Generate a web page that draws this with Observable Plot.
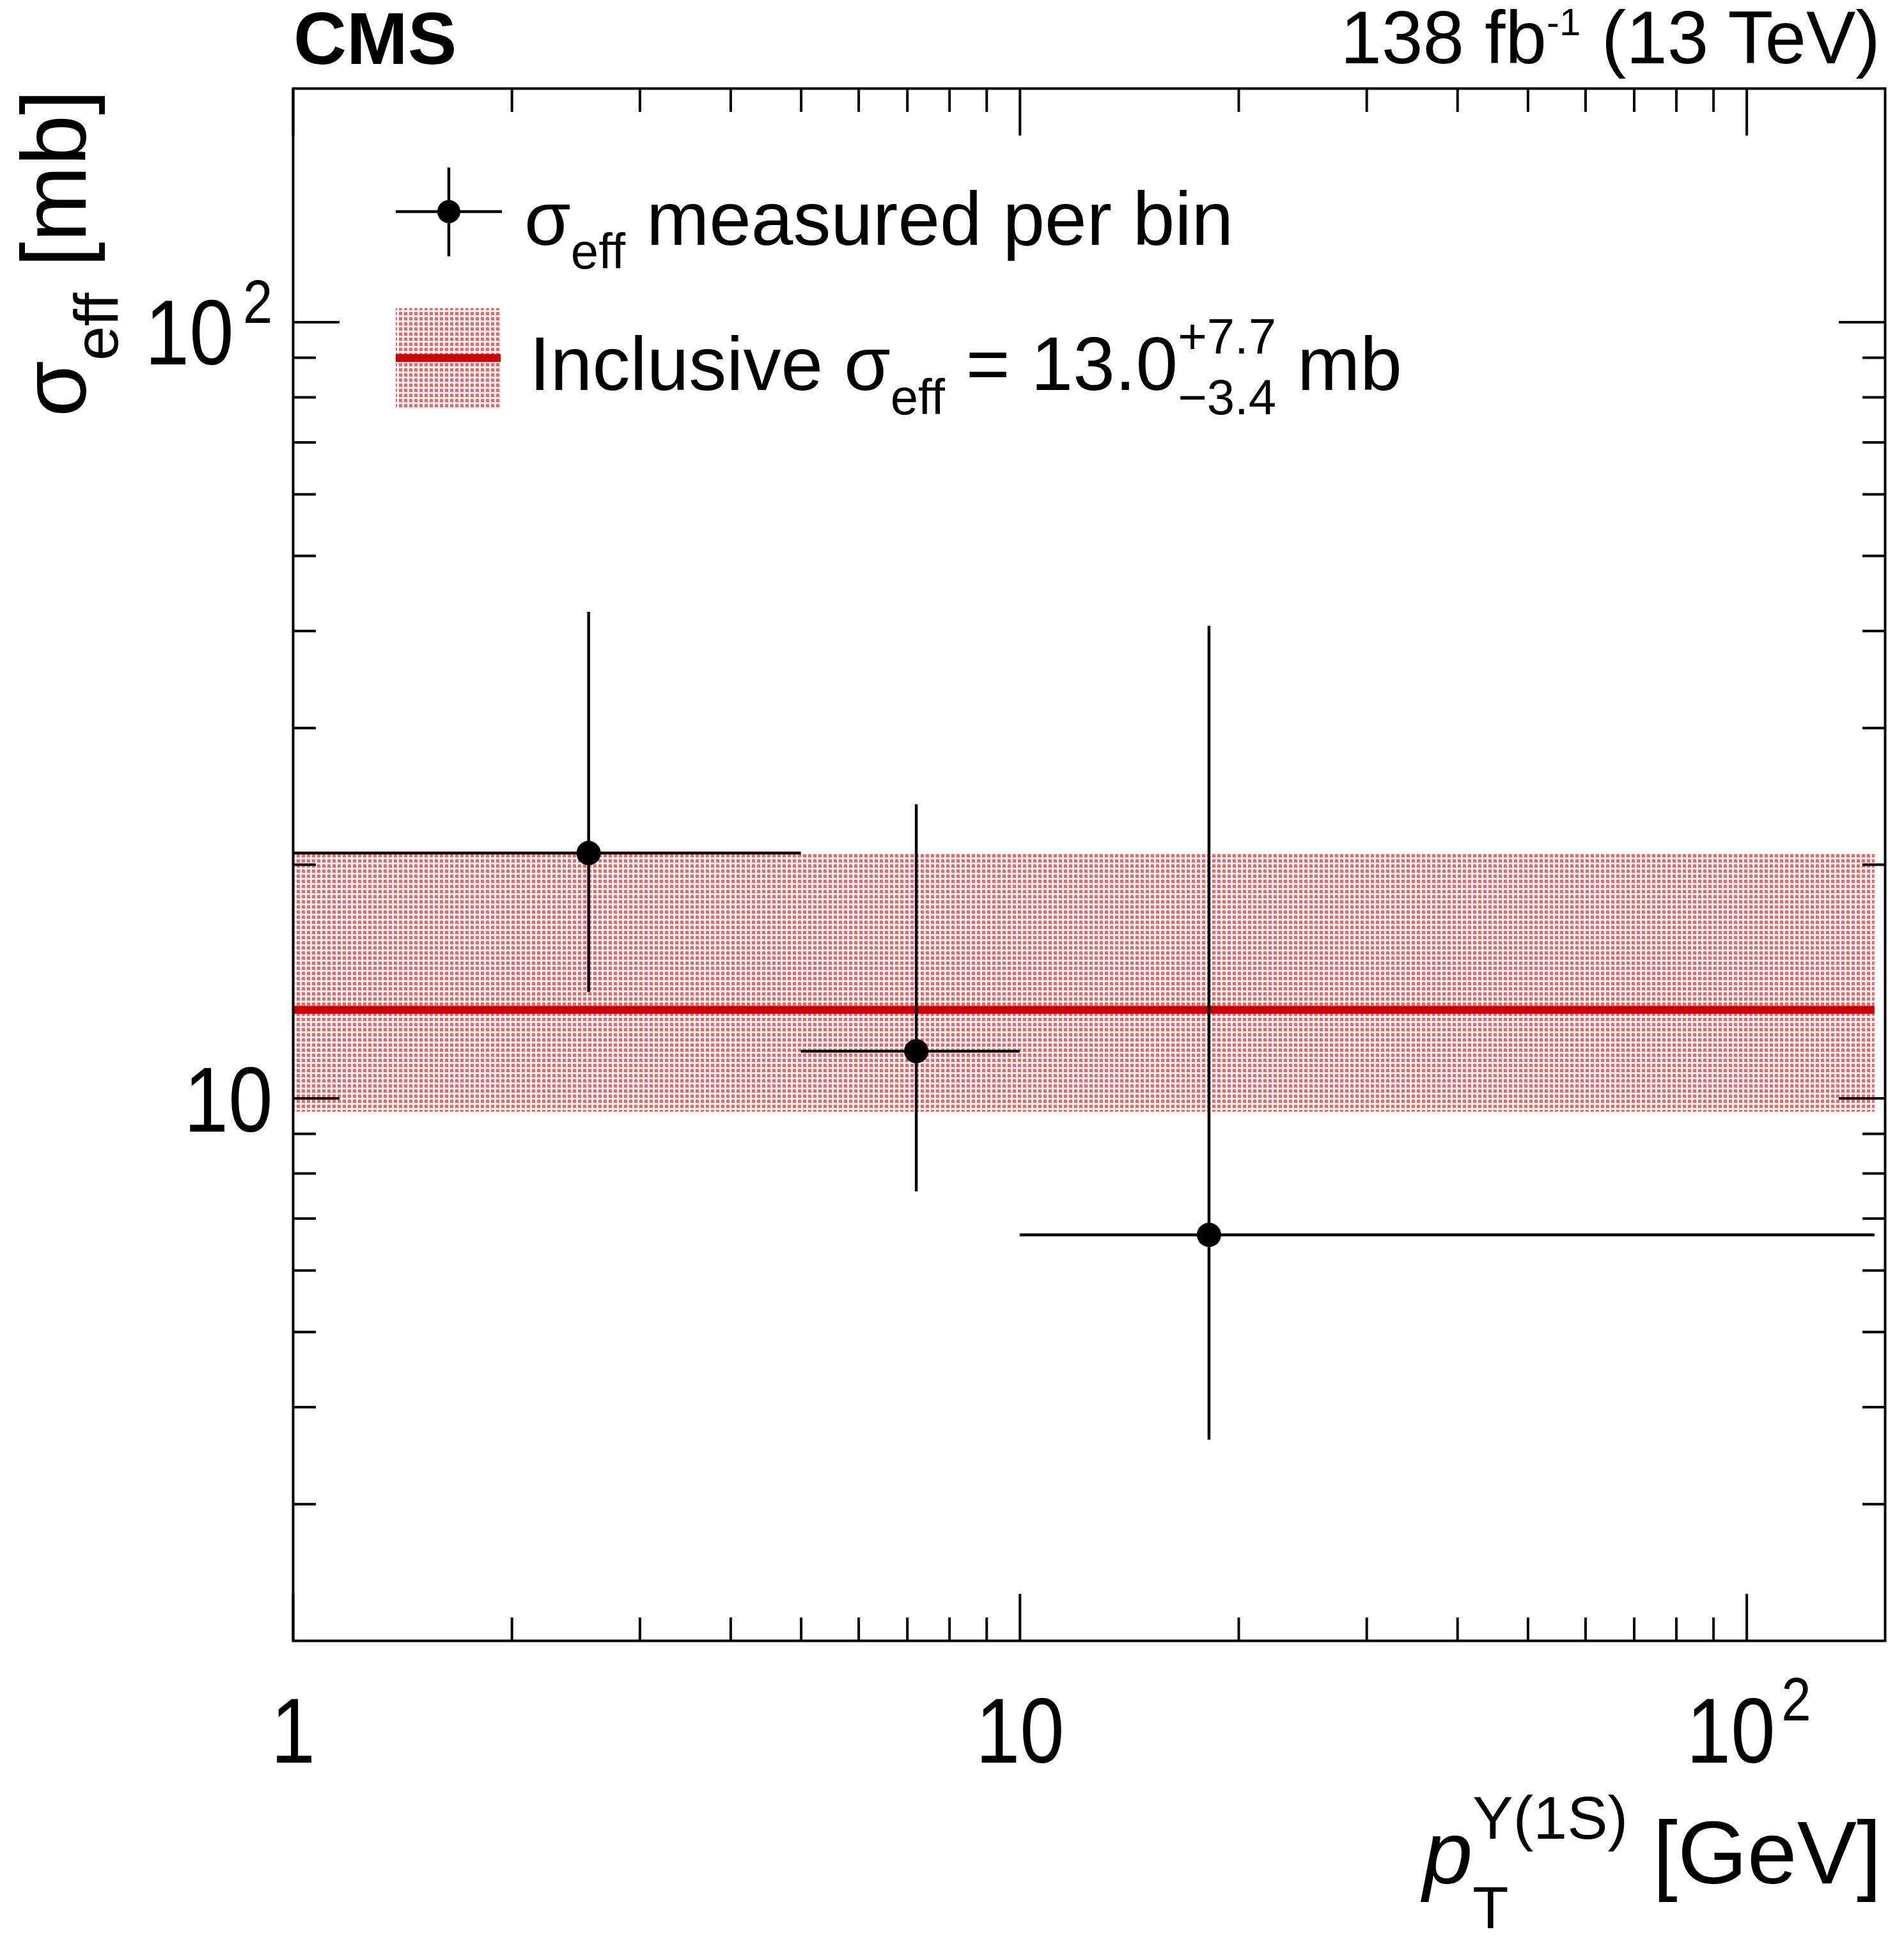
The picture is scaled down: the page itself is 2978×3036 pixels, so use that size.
<!DOCTYPE html>
<html><head><meta charset="utf-8">
<script src="https://cdn.jsdelivr.net/npm/d3@7"></script>
<script src="https://cdn.jsdelivr.net/npm/@observablehq/plot@0.6"></script>
<style>
body{margin:0;background:#fff}
svg text{white-space:pre}
</style>
</head><body>
<div id="chart"></div>
<script>
// ---------------- data ----------------
const binLow    = [1, 5, 10];          // pT bin lower edge [GeV]
const binHigh   = [5, 10, 150];        // pT bin upper edge [GeV]
const binCenter = [2.55, 7.2, 18.2];   // marker position [GeV]
const sigmaEff  = [20.7, 11.5, 6.67];  // sigma_eff per bin [mb]
const sigmaLow  = [13.7, 7.58, 3.63];  // lower end of error bar [mb]
const sigmaHigh = [42.3, 23.9, 40.6];  // upper end of error bar [mb]

const inclValue = 13.0;                // inclusive sigma_eff [mb]
const inclUp    = 7.7;
const inclDown  = 3.4;
const inclRange = [1, 150];            // pT range of the inclusive result

const xDomain = [1, 155];
const yDomain = [2, 200];
const xMajor = [1, 10, 100];
const xMinor = [2,3,4,5,6,7,8,9,20,30,40,50,60,70,80,90];
const yMajor = [10, 100];
const yMinor = [3,4,5,6,7,8,9,20,30,40,50,60,70,80,90];
const xTickLabels = [{v:1, base:"1", exp:""}, {v:10, base:"10", exp:""}, {v:100, base:"10", exp:"2"}];
const yTickLabels = [{v:10, base:"10", exp:""}, {v:100, base:"10", exp:"2"}];

const cmsText = "CMS";
const lumiMain = "138 fb", lumiExp = "-1", lumiTail = " (13 TeV)";
const legend1 = ["σ", "eff", " measured per bin"];
const legend2 = ["Inclusive σ", "eff", " = 13.0", "+7.7", "−3.4", " mb"];
const yTitle = ["σ", "eff", " [mb]"];
const xTitle = ["p", "Υ(1S)", "T", " [GeV]"];

// ---------------- tables ----------------
const bins = binCenter.map((c, i) => ({x: c, lo: binLow[i], hi: binHigh[i], y: sigmaEff[i], yLo: sigmaLow[i], yHi: sigmaHigh[i]}));
const incl = [{x1: inclRange[0], x2: inclRange[1], y: inclValue, y1: inclValue - inclDown, y2: inclValue + inclUp}];

const W = 2978, H = 3036;
const FONT = "'Liberation Sans', Arial, Helvetica, sans-serif";
const LW = 4;
const MAJ = 73, MIN = 36;
const RED = "#cc0000";

const ticks = (fn, anchor, values, size) => fn({anchor, ticks: values, tickSize: -size, strokeWidth: LW, tickFormat: () => "", label: null});

const plot = Plot.plot({
  width: W, height: H,
  marginLeft: 458, marginRight: 30, marginTop: 138, marginBottom: 470,
  style: {fontFamily: FONT, background: "white", overflow: "visible"},
  x: {type: "log", domain: xDomain, axis: null},
  y: {type: "log", domain: yDomain, axis: null},
  marks: [
    Plot.rect(incl, {x1: "x1", x2: "x2", y1: "y1", y2: "y2", fill: "url(#hatch)"}),
    Plot.ruleY(incl, {y: "y", x1: "x1", x2: "x2", stroke: RED, strokeWidth: 12.5}),
    Plot.ruleY(bins, {y: "y", x1: "lo", x2: "hi", stroke: "black", strokeWidth: 4.5}),
    Plot.ruleX(bins, {x: "x", y1: "yLo", y2: "yHi", stroke: "black", strokeWidth: 4.5}),
    Plot.dot(bins, {x: "x", y: "y", r: 19, fill: "black", stroke: null}),
    Plot.frame({stroke: "black", strokeWidth: LW}),
    ticks(Plot.axisX, "bottom", xMajor, MAJ),
    ticks(Plot.axisX, "bottom", xMinor, MIN),
    ticks(Plot.axisX, "top", xMajor, MAJ),
    ticks(Plot.axisX, "top", xMinor, MIN),
    ticks(Plot.axisY, "left", yMajor, MAJ),
    ticks(Plot.axisY, "left", yMinor, MIN),
    ticks(Plot.axisY, "right", yMajor, MAJ),
    ticks(Plot.axisY, "right", yMinor, MIN),
    // x tick labels
    Plot.text(xTickLabels.filter(d => !d.exp), {x: "v", text: "base", frameAnchor: "bottom", lineAnchor: "bottom", dy: 190, fontSize: 145, fill: "black"}),
    Plot.text(xTickLabels.filter(d => d.exp), {x: "v", text: "base", frameAnchor: "bottom", lineAnchor: "bottom", dy: 190, dx: -25, fontSize: 145, fill: "black"}),
    Plot.text(xTickLabels.filter(d => d.exp), {x: "v", text: "exp", frameAnchor: "bottom", lineAnchor: "bottom", textAnchor: "start", dy: 124, dx: 54, fontSize: 97, fill: "black"}),
    // y tick labels
    Plot.text(yTickLabels.filter(d => !d.exp), {y: "v", text: "base", frameAnchor: "left", lineAnchor: "bottom", textAnchor: "end", dx: -32, dy: 52, fontSize: 145, fill: "black"}),
    Plot.text(yTickLabels.filter(d => d.exp), {y: "v", text: "base", frameAnchor: "left", lineAnchor: "bottom", textAnchor: "end", dx: -93, dy: 66, fontSize: 145, fill: "black"}),
    Plot.text(yTickLabels.filter(d => d.exp), {y: "v", text: "exp", frameAnchor: "left", lineAnchor: "bottom", textAnchor: "end", dx: -32, dy: 1, fontSize: 97, fill: "black"})
  ]
});
document.getElementById("chart").appendChild(plot);

const svg = d3.select(plot);
// tick labels in the reference use a narrower face: condense glyphs around their anchor
svg.selectAll('g[aria-label="text"] text').each(function () {
  const t = this.getAttribute("transform");
  this.setAttribute("transform", (t ? t + " " : "") + "scale(0.86,1)");
});

const defs = svg.insert("defs", ":first-child");
const pat = defs.append("pattern").attr("id", "hatch").attr("patternUnits", "userSpaceOnUse").attr("width", 8).attr("height", 8);
pat.append("rect").attr("x", 0).attr("y", 0).attr("width", 5).attr("height", 5).attr("fill", "#ff5f5f");

// rich text helper (runs laid out by measured widths)
function richText(parent, {x, y, anchor = "start", rotate = 0, family = FONT, runs}) {
  const g = parent.append("g")
    .attr("transform", `translate(${x},${y}) rotate(${rotate})`)
    .attr("text-anchor", "start");
  const make = (r) => g.append("text")
    .attr("text-anchor", "start")
    .attr("font-family", family).attr("font-size", r.size)
    .attr("font-style", r.style || null).attr("font-weight", r.weight || null)
    .attr("fill", "black").text(r.t);
  const measure = (r) => { const t = make(r); const w = t.node().getComputedTextLength(); t.remove(); return w; };
  const items = runs.map(r => r.stack ? {list: r.stack, w: Math.max(...r.stack.map(measure))} : {list: [r], w: measure(r)});
  const total = d3.sum(items, d => d.w);
  let cx = anchor === "end" ? -total : anchor === "middle" ? -total / 2 : 0;
  for (const it of items) {
    for (const r of it.list) make(r).attr("x", cx).attr("y", r.shift || 0);
    cx += it.w;
  }
  return g;
}

const ann = svg.append("g");
richText(ann, {x: 459, y: 100, runs: [{t: cmsText, size: 115, weight: "bold"}]});
richText(ann, {x: 2941, y: 99, anchor: "end", runs: [
  {t: lumiMain, size: 116}, {t: lumiExp, size: 60, shift: -44}, {t: lumiTail, size: 116}]});
richText(ann, {x: 134, y: 140, anchor: "end", rotate: -90, runs: [
  {t: yTitle[0], size: 143}, {t: yTitle[1], size: 97, shift: 50}, {t: yTitle[2], size: 143}]});
richText(ann, {x: 2943, y: 2946, anchor: "end", runs: [
  {t: xTitle[0], size: 140, style: "italic"},
  {stack: [{t: xTitle[1], size: 95, shift: -70}, {t: xTitle[2], size: 92, shift: 70}]},
  {t: xTitle[3], size: 140}]});

// legend
const lg = svg.append("g");
lg.append("rect").attr("x", 619).attr("y", 482).attr("width", 164).attr("height", 157).attr("fill", "url(#hatch)");
lg.append("line").attr("x1", 619).attr("x2", 783).attr("y1", 560).attr("y2", 560).attr("stroke", RED).attr("stroke-width", 12.5);
lg.append("line").attr("x1", 619).attr("x2", 785).attr("y1", 331).attr("y2", 331).attr("stroke", "black").attr("stroke-width", 4.5);
lg.append("line").attr("x1", 702).attr("x2", 702).attr("y1", 262).attr("y2", 401).attr("stroke", "black").attr("stroke-width", 4.5);
lg.append("circle").attr("cx", 702).attr("cy", 331).attr("r", 18).attr("fill", "black");
richText(lg, {x: 820, y: 383, runs: [
  {t: legend1[0], size: 118}, {t: legend1[1], size: 78, shift: 37}, {t: legend1[2], size: 118}]});
richText(lg, {x: 828, y: 610, runs: [
  {t: legend2[0], size: 118}, {t: legend2[1], size: 78, shift: 38}, {t: legend2[2], size: 118},
  {stack: [{t: legend2[3], size: 78, shift: -57}, {t: legend2[4], size: 78, shift: 38}]},
  {t: legend2[5], size: 118}]});
</script>
</body></html>
